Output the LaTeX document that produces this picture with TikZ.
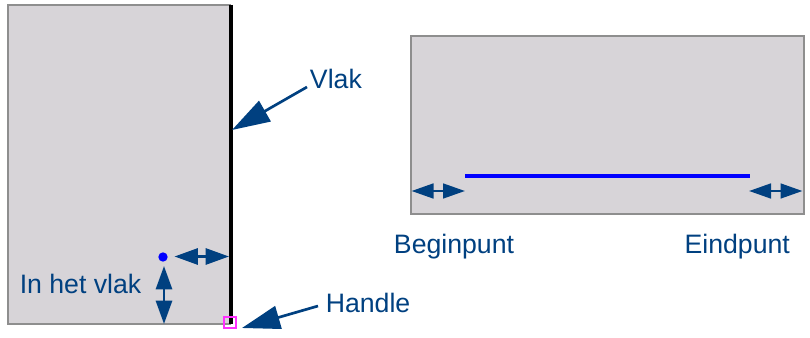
\documentclass[tikz,border=0pt]{standalone}
\usepackage{fontspec}
\setmainfont{Liberation Sans}
\usetikzlibrary{arrows.meta}
\definecolor{panelgray}{HTML}{D7D4D8}
\definecolor{edgegray}{HTML}{8E8E8E}
\definecolor{navy}{HTML}{004080}
\definecolor{pureblue}{HTML}{0000FF}
\definecolor{handlepink}{HTML}{FF30FF}
\tikzset{
  panel/.style={draw=edgegray,fill=panelgray,line width=1.1pt,inner sep=0pt,outer sep=0pt,anchor=north west},
  label/.style={text=navy,font=\fontsize{20}{22}\selectfont,inner sep=0pt,anchor=base west},
  callout/.style={draw=navy,line width=2pt,-{Triangle[length=28.5pt,width=17.5pt]}},
  twoway/.style={draw=navy,line width=2.1pt,{Triangle[length=17.5pt,width=12pt]}-{Triangle[length=17.5pt,width=12pt]}},
  twowayflat/.style={draw=navy,line width=2pt,{Triangle[length=16.5pt,width=11pt]}-{Triangle[length=16.5pt,width=11pt]}},
}
\begin{document}
\begin{tikzpicture}[x=0.75pt,y=-0.75pt]
\useasboundingbox (0,0) rectangle (810,338);
% panels
\node[panel,minimum width=166.5pt,minimum height=239.25pt] (leftpanel) at (8,5) {};
\node[panel,minimum width=294.75pt,minimum height=133.5pt] (rightpanel) at (411,36) {};
% plane and lines
\coordinate (planetop) at (230.7,5);
\coordinate (planebot) at (230.7,324);
\draw[black,line width=3.2pt] (planetop) -- (planebot);
\coordinate (linestart) at (465,176);
\coordinate (lineend) at (750,176);
\draw[pureblue,line width=3.2pt] (linestart) -- (lineend);
% dot and handle
\node[circle,fill=pureblue,minimum size=7pt,inner sep=0pt] (dot) at (163,257) {};
\node[draw=handlepink,line width=1.1pt,minimum width=9pt,minimum height=8.3pt,inner sep=0pt] (handlebox) at (230,322.5) {};
% labels
\node[label] (vlak) at (309.7,89) {Vlak};
\node[label] (handle) at (325.5,312) {Handle};
\node[label] (inhet) at (19.5,293) {In het vlak};
\node[label] (begin) at (393.7,253) {Beginpunt};
\node[label] (eind) at (684.3,253) {Eindpunt};
% callouts
\coordinate (vlakfrom) at (307,87);
\coordinate (vlakto) at (232,130);
\draw[callout] (vlakfrom) -- (vlakto);
\coordinate (handlefrom) at (318,306);
\coordinate (handleto) at (242,328);
\draw[callout] (handlefrom) -- (handleto);
% dimension arrows
\coordinate (hl) at (174.5,256.5);
\coordinate (hr) at (229,256.5);
\draw[twoway] (hl) -- (hr);
\coordinate (vt) at (164,266);
\coordinate (vb) at (164,324);
\draw[twoway] (vt) -- (vb);
\coordinate (bl) at (411.5,191);
\coordinate (br) at (465,191);
\draw[twowayflat] (bl) -- (br);
\coordinate (el) at (749,191);
\coordinate (er) at (802.5,191);
\draw[twowayflat] (el) -- (er);
\end{tikzpicture}
\end{document}
